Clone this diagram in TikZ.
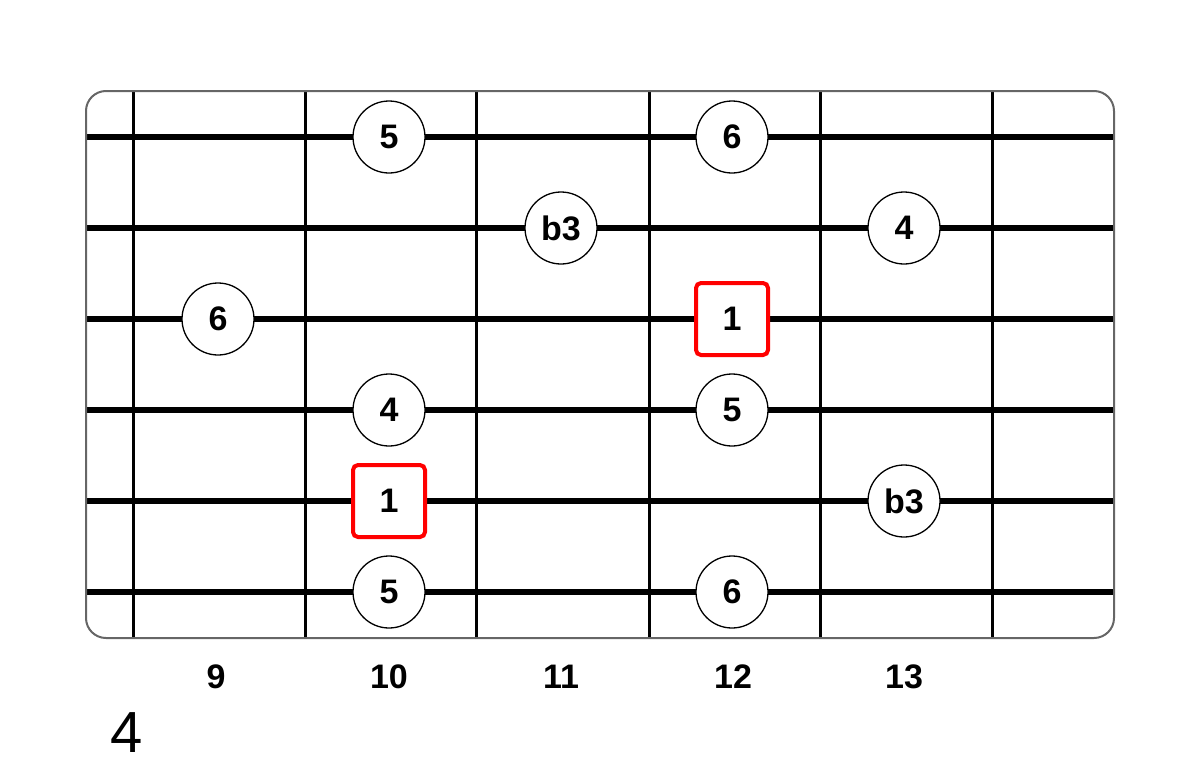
\documentclass[tikz,border=0pt]{standalone}
\usepackage{fontspec}
\setmainfont{Liberation Sans}
\begin{document}
\begin{tikzpicture}[x=1pt,y=-1pt,
  fretline/.style={line width=3pt,black},
  stringline/.style={line width=6.5pt,black},
  note/.style={circle,draw=black,fill=white,line width=1.3pt,minimum size=72pt,inner sep=0pt,font=\fontsize{34}{40}\selectfont\bfseries},
  root/.style={rectangle,rounded corners=5pt,draw=red,fill=white,line width=4pt,minimum size=72pt,inner sep=0pt,font=\fontsize{34}{40}\selectfont\bfseries},
  fretnum/.style={font=\fontsize{34}{40}\selectfont\bfseries}]
\useasboundingbox (0,0) rectangle (1200,774);
\begin{scope}
\clip[rounded corners=20pt] (86,91) rectangle (1114,638);
\foreach \x in {133,305,476,649,820,992} \draw[fretline] (\x,91) -- (\x,638);
\foreach \y in {137,228,319,410,501,592} \draw[stringline] (86,\y) -- (1114,\y);
\end{scope}
\node[draw=black!60,line width=2pt,rounded corners=20pt,minimum width=1028pt,minimum height=547pt,inner sep=0pt] (board) at (600,364.5) {};
% string 1
\node[note] (n1a) at (389,137) {5};
\node[note] (n1b) at (732,137) {6};
% string 2
\node[note] (n2a) at (561,228) {b3};
\node[note] (n2b) at (904,228) {4};
% string 3
\node[note] (n3a) at (218,319) {6};
\node[root] (n3b) at (732,319) {1};
% string 4
\node[note] (n4a) at (389,410) {4};
\node[note] (n4b) at (732,410) {5};
% string 5
\node[root] (n5a) at (389,501) {1};
\node[note] (n5b) at (904,501) {b3};
% string 6
\node[note] (n6a) at (389,592) {5};
\node[note] (n6b) at (732,592) {6};
% fret numbers
\node[fretnum] (f9) at (216,677) {9};
\node[fretnum] (f10) at (389,677) {10};
\node[fretnum] (f11) at (561,677) {11};
\node[fretnum] (f12) at (733,677) {12};
\node[fretnum] (f13) at (904,677) {13};
\node[font=\fontsize{58}{66}\selectfont] (pos) at (127,733) {4};
\end{tikzpicture}
\end{document}
